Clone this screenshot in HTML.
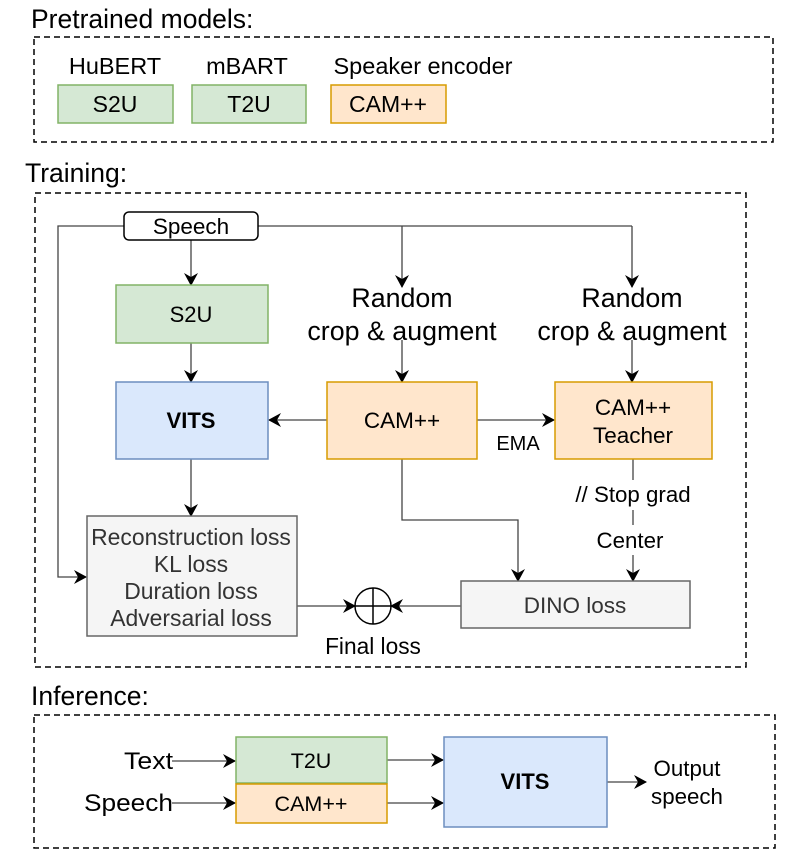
<!DOCTYPE html>
<html><head><meta charset="utf-8"><style>
html,body{margin:0;padding:0;background:#fff}
svg{display:block}
text{font-family:"Liberation Sans",sans-serif}
</style></head><body>
<svg width="789" height="855" viewBox="0 0 789 855" xmlns="http://www.w3.org/2000/svg">
<defs>
<marker id="a" markerWidth="13" markerHeight="14" refX="12" refY="7" orient="auto" markerUnits="userSpaceOnUse">
<path d="M0,0 L13,7 L0,14 L4,7 Z" fill="#000"/></marker>
</defs>
<g font-size="26.5" fill="#000">
<text x="31" y="28">Pretrained models:</text>
<text x="25" y="182">Training:</text>
<text x="31" y="705">Inference:</text>
</g>
<g fill="none" stroke="#000" stroke-width="1.5" stroke-dasharray="6,4">
<rect x="34" y="37" width="739" height="105"/>
<rect x="35" y="193" width="711" height="474"/>
<rect x="34" y="715" width="741" height="133"/>
</g>
<g font-size="23.5" text-anchor="middle">
<text x="115" y="74">HuBERT</text>
<text x="247" y="74">mBART</text>
<text x="423" y="74">Speaker encoder</text>
</g>
<rect x="58" y="85" width="115" height="38" fill="#d5e8d4" stroke="#82b366" stroke-width="1.5"/>
<rect x="192" y="85" width="114" height="38" fill="#d5e8d4" stroke="#82b366" stroke-width="1.5"/>
<rect x="331" y="85" width="115" height="38" fill="#ffe6cc" stroke="#d79b00" stroke-width="1.5"/>
<g font-size="23" text-anchor="middle">
<text x="115" y="112">S2U</text><text x="249" y="112">T2U</text><text x="388" y="112">CAM++</text>
</g>
<g fill="none" stroke="#444" stroke-width="1.3">
<polyline points="124,226 58,226 58,577 86,577" marker-end="url(#a)"/>
<line x1="258" y1="226" x2="632" y2="226"/>
<line x1="402" y1="226" x2="402" y2="287" marker-end="url(#a)"/>
<line x1="632" y1="226" x2="632" y2="287" marker-end="url(#a)"/>
<line x1="191" y1="240" x2="191" y2="285" marker-end="url(#a)"/>
<line x1="191" y1="343" x2="191" y2="382" marker-end="url(#a)"/>
<line x1="402" y1="340" x2="402" y2="382" marker-end="url(#a)"/>
<line x1="632" y1="340" x2="632" y2="382" marker-end="url(#a)"/>
<line x1="327" y1="420" x2="269" y2="420" marker-end="url(#a)"/>
<line x1="477" y1="420" x2="554" y2="420" marker-end="url(#a)"/>
<line x1="191" y1="459" x2="191" y2="516" marker-end="url(#a)"/>
<polyline points="402,459 402,520 518,520 518,581" marker-end="url(#a)"/>
<line x1="633" y1="459" x2="633" y2="480"/>
<line x1="633" y1="510" x2="633" y2="525"/>
<line x1="633" y1="555" x2="633" y2="581" marker-end="url(#a)"/>
<line x1="297" y1="606" x2="355" y2="606" marker-end="url(#a)"/>
<line x1="461" y1="606" x2="391" y2="606" marker-end="url(#a)"/>
</g>
<rect x="124" y="212" width="134" height="28" rx="5" fill="#fff" stroke="#000" stroke-width="1.5"/>
<text x="191" y="234" font-size="22.5" text-anchor="middle">Speech</text>
<rect x="116" y="285" width="152" height="58" fill="#d5e8d4" stroke="#82b366" stroke-width="1.5"/>
<text x="191" y="322" font-size="22" text-anchor="middle">S2U</text>
<rect x="116" y="382" width="152" height="77" fill="#dae8fc" stroke="#6c8ebf" stroke-width="1.5"/>
<text x="191" y="428" font-size="22" font-weight="bold" text-anchor="middle">VITS</text>
<rect x="327" y="382" width="150" height="77" fill="#ffe6cc" stroke="#d79b00" stroke-width="1.5"/>
<text x="402" y="428" font-size="22.5" text-anchor="middle">CAM++</text>
<rect x="555" y="382" width="157" height="77" fill="#ffe6cc" stroke="#d79b00" stroke-width="1.5"/>
<text x="633" y="415" font-size="22.5" text-anchor="middle">CAM++</text>
<text x="633" y="443" font-size="22.5" text-anchor="middle">Teacher</text>
<g font-size="26.8" text-anchor="middle">
<text x="402" y="307">Random</text><text x="402" y="340">crop &amp; augment</text>
<text x="632" y="307">Random</text><text x="632" y="340">crop &amp; augment</text>
</g>
<text x="518" y="450" font-size="20" text-anchor="middle">EMA</text>
<text x="633" y="502" font-size="22.3" text-anchor="middle">// Stop grad</text>
<text x="630" y="548" font-size="22.3" text-anchor="middle">Center</text>
<rect x="87" y="516" width="210" height="120" fill="#f5f5f5" stroke="#666" stroke-width="1.5"/>
<g font-size="22.9" fill="#333" text-anchor="middle">
<text x="191" y="545">Reconstruction loss</text>
<text x="191" y="572">KL loss</text>
<text x="191" y="599">Duration loss</text>
<text x="191" y="626">Adversarial loss</text>
</g>
<rect x="461" y="581" width="229" height="47" fill="#f5f5f5" stroke="#666" stroke-width="1.5"/>
<text x="575" y="613" font-size="22.5" fill="#333" text-anchor="middle">DINO loss</text>
<circle cx="373" cy="606" r="18" fill="#fff" stroke="#000" stroke-width="1.5"/>
<line x1="355" y1="606" x2="391" y2="606" stroke="#000" stroke-width="1.5"/>
<line x1="373" y1="588" x2="373" y2="624" stroke="#000" stroke-width="1.5"/>
<text x="373" y="654" font-size="22.7" text-anchor="middle">Final loss</text>
<g fill="none" stroke="#444" stroke-width="1.3">
<line x1="172" y1="761" x2="235" y2="761" marker-end="url(#a)"/>
<line x1="172" y1="803" x2="235" y2="803" marker-end="url(#a)"/>
<line x1="387" y1="760" x2="443" y2="760" marker-end="url(#a)"/>
<line x1="387" y1="803" x2="443" y2="803" marker-end="url(#a)"/>
<line x1="607" y1="782" x2="646" y2="782" marker-end="url(#a)"/>
</g>
<rect x="236" y="737" width="151" height="46" fill="#d5e8d4" stroke="#82b366" stroke-width="1.5"/>
<rect x="236" y="784" width="151" height="39" fill="#ffe6cc" stroke="#d79b00" stroke-width="1.5"/>
<text x="311" y="768" font-size="21.5" text-anchor="middle">T2U</text>
<text x="311" y="811" font-size="21.5" text-anchor="middle">CAM++</text>
<rect x="444" y="737" width="163" height="90" fill="#dae8fc" stroke="#6c8ebf" stroke-width="1.5"/>
<text x="525" y="789" font-size="22" font-weight="bold" text-anchor="middle">VITS</text>
<text x="173" y="769" font-size="24" text-anchor="end" textLength="49" lengthAdjust="spacingAndGlyphs">Text</text>
<text x="173" y="811" font-size="24" text-anchor="end" textLength="89" lengthAdjust="spacingAndGlyphs">Speech</text>
<text x="687" y="776" font-size="22.3" text-anchor="middle">Output</text>
<text x="687" y="804" font-size="22.3" text-anchor="middle">speech</text>
</svg>
</body></html>
